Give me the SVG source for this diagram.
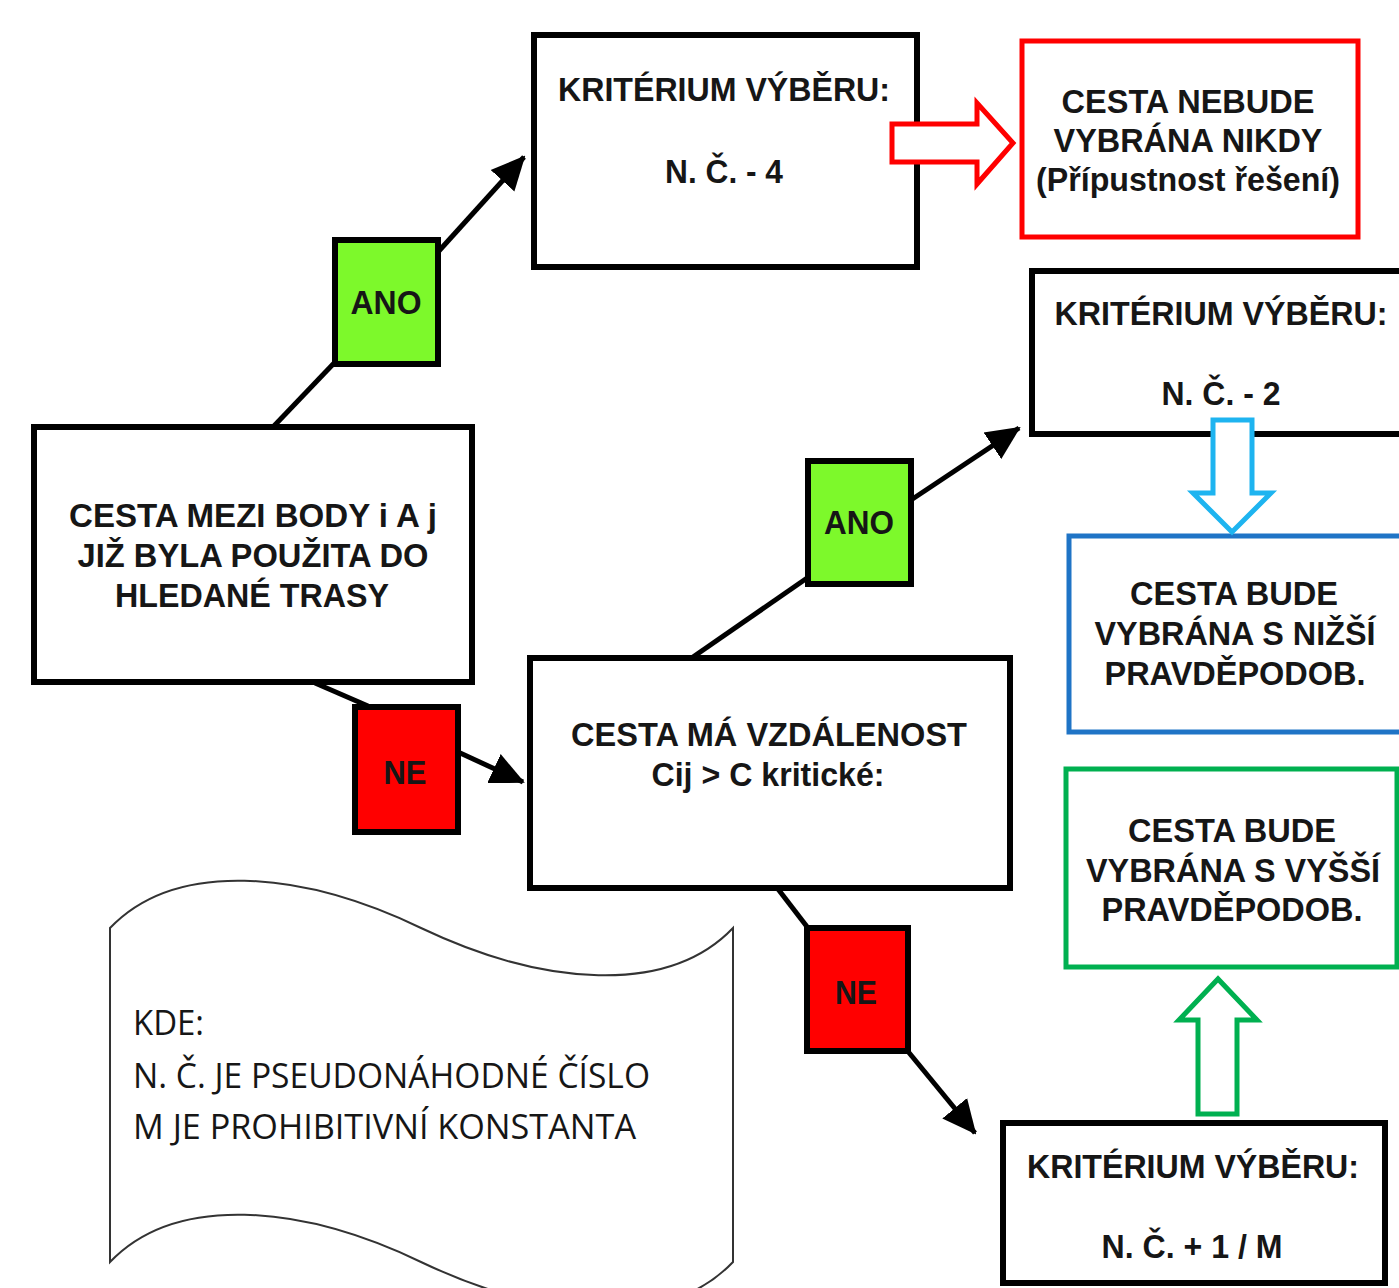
<svg xmlns="http://www.w3.org/2000/svg" width="1399" height="1288" viewBox="0 0 1399 1288">
<style>
.box{fill:#fff;stroke:#000;stroke-width:6}
.t{font-family:"Liberation Sans",Arial,sans-serif;font-weight:bold;font-size:33px;fill:#161616;text-anchor:middle}
.n{font-family:"Open Sans","Liberation Sans",sans-serif;font-size:34px;fill:#161616}
.ano{fill:#7DF92B;stroke:#000;stroke-width:6}
.ne{fill:#FF0000;stroke:#000;stroke-width:6}
.conn{stroke:#000;stroke-width:5;fill:none}
</style>
<defs>
<marker id="ah" markerUnits="userSpaceOnUse" markerWidth="34" markerHeight="34" refX="32" refY="16" orient="auto" viewBox="0 0 34 32">
<path d="M0,0 L34,16 L0,32 Z" fill="#000"/>
</marker>
</defs>
<rect width="1399" height="1288" fill="#fff"/>

<g id="connectors">
<line class="conn" x1="273" y1="427" x2="337" y2="360"/>
<line class="conn" x1="438" y1="252" x2="524" y2="157" marker-end="url(#ah)"/>
<line class="conn" x1="315" y1="683" x2="368" y2="706"/>
<line class="conn" x1="458" y1="752" x2="523" y2="782" marker-end="url(#ah)"/>
<line class="conn" x1="693" y1="657" x2="810" y2="576"/>
<line class="conn" x1="911" y1="500" x2="1019" y2="428" marker-end="url(#ah)"/>
<line class="conn" x1="778" y1="889" x2="808" y2="928"/>
<line class="conn" x1="906" y1="1049" x2="975" y2="1133" marker-end="url(#ah)"/>
</g>

<g id="doc">
<path d="M110,928 C175,860 300,870 421,928 C543,986 668,996 733,928 L733,1262 C668,1330 543,1320 421,1262 C300,1204 175,1194 110,1262 Z" fill="#fff" stroke="#333" stroke-width="2"/>
<text class="n" x="133" y="1035" textLength="71" lengthAdjust="spacingAndGlyphs">KDE:</text>
<text class="n" x="133" y="1088" textLength="517" lengthAdjust="spacingAndGlyphs">N. Č. JE PSEUDONÁHODNÉ ČÍSLO</text>
<text class="n" x="133" y="1139" textLength="503" lengthAdjust="spacingAndGlyphs">M JE PROHIBITIVNÍ KONSTANTA</text>
</g>

<g id="main">
<rect class="box" x="34" y="427" width="438" height="255"/>
<text class="t" x="253" y="527" textLength="368" lengthAdjust="spacingAndGlyphs">CESTA MEZI BODY i A j</text>
<text class="t" x="253" y="567" textLength="351" lengthAdjust="spacingAndGlyphs">JIŽ BYLA POUŽITA DO</text>
<text class="t" x="252" y="607" textLength="274" lengthAdjust="spacingAndGlyphs">HLEDANÉ TRASY</text>
</g>

<g id="ano1">
<rect class="ano" x="335" y="240" width="103" height="124"/>
<text class="t" x="386" y="314" textLength="71" lengthAdjust="spacingAndGlyphs">ANO</text>
</g>

<g id="ne1">
<rect class="ne" x="355" y="707" width="103" height="125"/>
<text class="t" x="405" y="784" textLength="43" lengthAdjust="spacingAndGlyphs">NE</text>
</g>

<g id="kriterium4">
<rect class="box" x="534" y="35" width="383" height="232"/>
<text class="t" x="724" y="101" textLength="332" lengthAdjust="spacingAndGlyphs">KRITÉRIUM VÝBĚRU:</text>
<text class="t" x="724" y="183" textLength="118" lengthAdjust="spacingAndGlyphs">N. Č. - 4</text>
</g>

<g id="nikdy">
<rect x="1022" y="41" width="336" height="196" fill="#fff" stroke="#FF0000" stroke-width="5"/>
<text class="t" x="1188" y="113" textLength="253" lengthAdjust="spacingAndGlyphs">CESTA NEBUDE</text>
<text class="t" x="1188" y="152" textLength="269" lengthAdjust="spacingAndGlyphs">VYBRÁNA NIKDY</text>
<text class="t" x="1188" y="191" textLength="304" lengthAdjust="spacingAndGlyphs">(Přípustnost řešení)</text>
</g>

<g id="arrow-red">
<polygon points="892,124 977,124 977,103 1013,143 977,184 977,162 892,162" fill="#fff" stroke="#FF0000" stroke-width="5" stroke-linejoin="miter"/>
</g>

<g id="middle">
<rect class="box" x="530" y="658" width="480" height="230"/>
<text class="t" x="769" y="746" textLength="396" lengthAdjust="spacingAndGlyphs">CESTA MÁ VZDÁLENOST</text>
<text class="t" x="768" y="786" textLength="233" lengthAdjust="spacingAndGlyphs">Cij &gt; C kritické:</text>
</g>

<g id="ano2">
<rect class="ano" x="808" y="461" width="103" height="123"/>
<text class="t" x="859" y="534" textLength="70" lengthAdjust="spacingAndGlyphs">ANO</text>
</g>

<g id="ne2">
<rect class="ne" x="807" y="928" width="101" height="123"/>
<text class="t" x="856" y="1004" textLength="42" lengthAdjust="spacingAndGlyphs">NE</text>
</g>

<g id="kriterium2">
<rect class="box" x="1032" y="271" width="400" height="163"/>
<text class="t" x="1221" y="325" textLength="333" lengthAdjust="spacingAndGlyphs">KRITÉRIUM VÝBĚRU:</text>
<text class="t" x="1221" y="405" textLength="119" lengthAdjust="spacingAndGlyphs">N. Č. - 2</text>
</g>

<g id="nizsi">
<rect x="1069" y="536" width="345" height="196" fill="#fff" stroke="#1F74C6" stroke-width="5"/>
<text class="t" x="1234" y="605" textLength="208" lengthAdjust="spacingAndGlyphs">CESTA BUDE</text>
<text class="t" x="1235" y="645" textLength="281" lengthAdjust="spacingAndGlyphs">VYBRÁNA S NIŽŠÍ</text>
<text class="t" x="1235" y="685" textLength="261" lengthAdjust="spacingAndGlyphs">PRAVDĚPODOB.</text>
</g>

<g id="arrow-blue">
<polygon points="1213,420 1252,420 1252,493 1271,493 1232,532 1193,493 1213,493" fill="#fff" stroke="#1EB4F0" stroke-width="5"/>
</g>

<g id="vyssi">
<rect x="1066" y="769" width="331" height="198" fill="#fff" stroke="#00B050" stroke-width="5"/>
<text class="t" x="1232" y="842" textLength="208" lengthAdjust="spacingAndGlyphs">CESTA BUDE</text>
<text class="t" x="1233" y="882" textLength="294" lengthAdjust="spacingAndGlyphs">VYBRÁNA S VYŠŠÍ</text>
<text class="t" x="1232" y="921" textLength="261" lengthAdjust="spacingAndGlyphs">PRAVDĚPODOB.</text>
</g>

<g id="kriteriumM">
<rect class="box" x="1003" y="1123" width="382" height="160"/>
<text class="t" x="1193" y="1178" textLength="332" lengthAdjust="spacingAndGlyphs">KRITÉRIUM VÝBĚRU:</text>
<text class="t" x="1192" y="1258" textLength="181" lengthAdjust="spacingAndGlyphs">N. Č. + 1 / M</text>
</g>

<g id="arrow-green">
<polygon points="1198,1114 1237,1114 1237,1020 1257,1020 1218,979 1179,1020 1198,1020" fill="#fff" stroke="#00B050" stroke-width="5"/>
</g>
</svg>
